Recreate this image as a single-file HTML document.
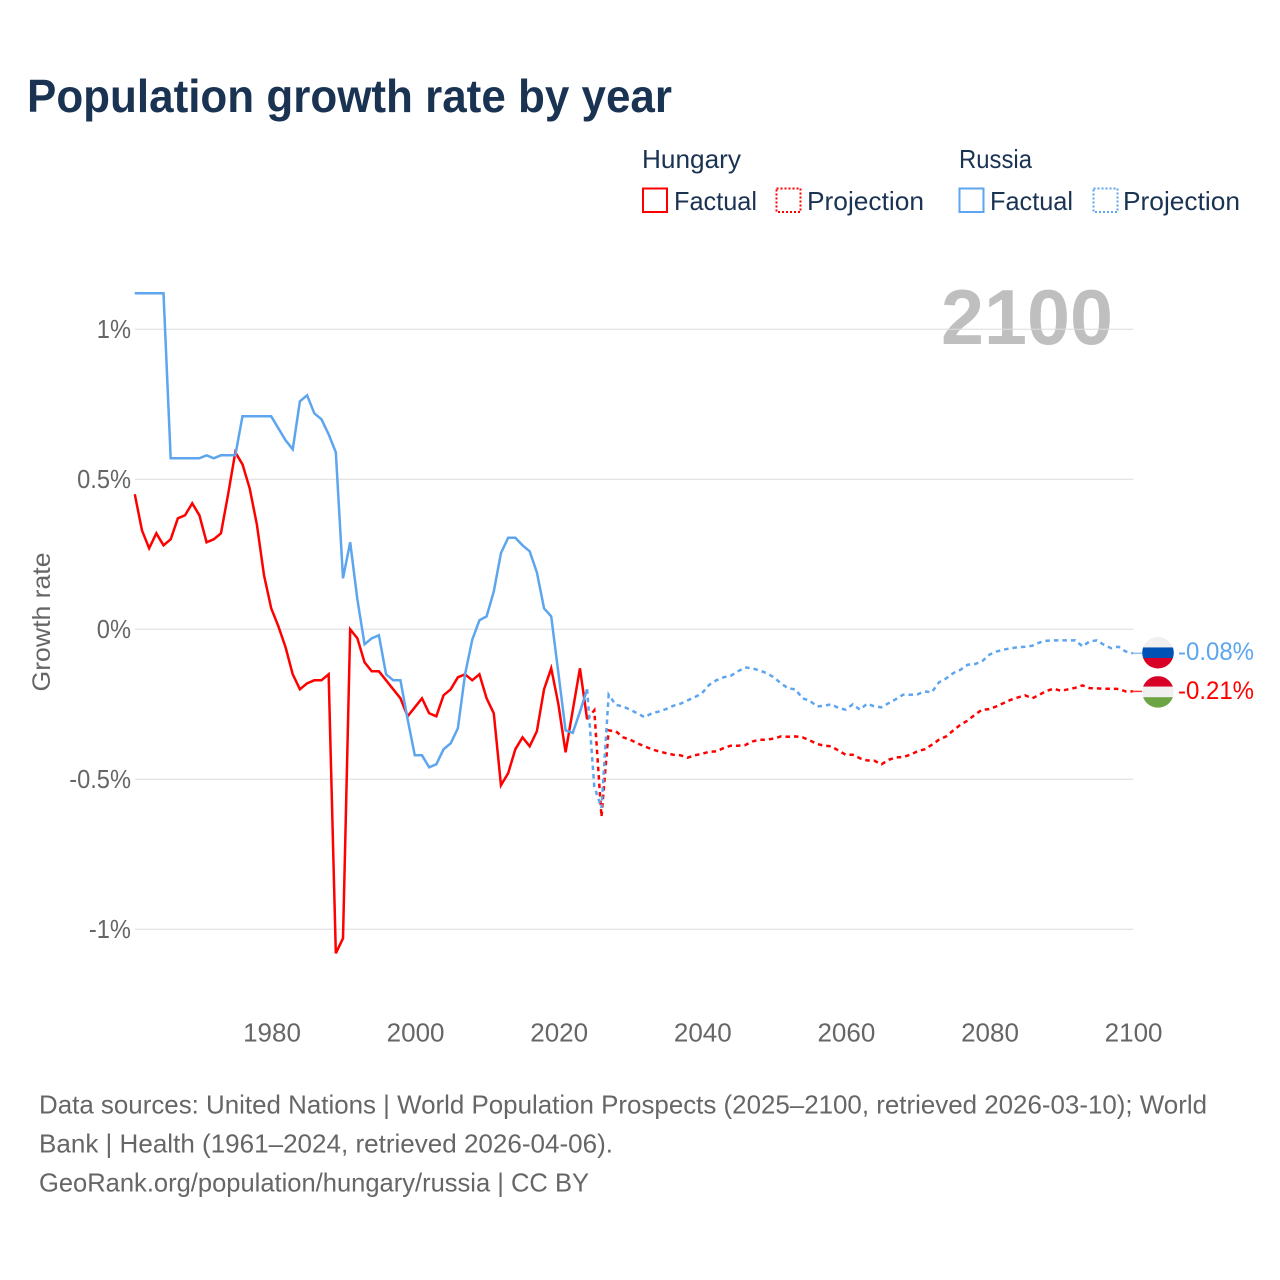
<!DOCTYPE html>
<html lang="en">
<head>
<meta charset="utf-8">
<title>Population growth rate by year</title>
<style>
  html, body { margin: 0; padding: 0; background: #fff; }
  svg { display: block; font-family: "Liberation Sans", sans-serif; }
</style>
</head>
<body>
<svg id="chart" xmlns="http://www.w3.org/2000/svg" width="1280" height="1280" viewBox="0 0 1280 1280">
  <defs>
    <clipPath id="flag-clip-russia"><circle id="flag-circle-russia" r="15.8"/></clipPath>
    <clipPath id="flag-clip-hungary"><circle id="flag-circle-hungary" r="15.8"/></clipPath>
  </defs>
  <rect width="1280" height="1280" fill="#fff"/>

  <text x="27" y="112" font-size="46" font-weight="700" fill="#1a3353" textLength="645" lengthAdjust="spacingAndGlyphs">Population growth rate by year</text>

  <g font-size="26" fill="#1a3353">
    <text x="642" y="168" textLength="99" lengthAdjust="spacingAndGlyphs">Hungary</text>
    <text x="959" y="168" textLength="73" lengthAdjust="spacingAndGlyphs">Russia</text>

    <rect x="643" y="188.5" width="24" height="23.5" fill="none" stroke="#ff0000" stroke-width="2"/>
    <text x="674" y="210" textLength="83" lengthAdjust="spacingAndGlyphs">Factual</text>
    <rect x="776.5" y="188.5" width="24" height="23.5" fill="none" stroke="#ff0000" stroke-width="2" stroke-dasharray="2 2"/>
    <text x="807" y="210" textLength="117" lengthAdjust="spacingAndGlyphs">Projection</text>

    <rect x="959.5" y="188.5" width="24" height="23.5" fill="none" stroke="#5da5ee" stroke-width="2"/>
    <text x="990" y="210" textLength="83" lengthAdjust="spacingAndGlyphs">Factual</text>
    <rect x="1093.5" y="188.5" width="24" height="23.5" fill="none" stroke="#5da5ee" stroke-width="2" stroke-dasharray="2 2"/>
    <text x="1123" y="210" textLength="117" lengthAdjust="spacingAndGlyphs">Projection</text>
  </g>

  <text x="941" y="344" font-size="78" font-weight="700" fill="#bfbfbf" textLength="172" lengthAdjust="spacingAndGlyphs">2100</text>

  <g id="grid"></g>
  <g id="y-ticks" font-size="26" fill="#666"></g>
  <g id="x-ticks" font-size="26" fill="#666"></g>

  <text transform="translate(50 622) rotate(-90)" text-anchor="middle" font-size="25" fill="#666" textLength="139" lengthAdjust="spacingAndGlyphs">Growth rate</text>

  <g id="series"></g>

  <g id="flag-russia" clip-path="url(#flag-clip-russia)"></g>
  <g id="flag-hungary" clip-path="url(#flag-clip-hungary)"></g>
  <g id="end-labels" font-size="25"></g>

  <g font-size="26" fill="#666">
    <text x="39" y="1113.5" textLength="1168" lengthAdjust="spacingAndGlyphs">Data sources: United Nations | World Population Prospects (2025–2100, retrieved 2026-03-10); World</text>
    <text x="39" y="1152.5" textLength="574" lengthAdjust="spacingAndGlyphs">Bank | Health (1961–2024, retrieved 2026-04-06).</text>
    <text x="39" y="1191.5" textLength="550" lengthAdjust="spacingAndGlyphs">GeoRank.org/population/hungary/russia | CC BY</text>
  </g>
</svg>

<script>
const factualYears = [1961,1962,1963,1964,1965,1966,1967,1968,1969,1970,1971,1972,1973,1974,1975,1976,1977,1978,1979,1980,1981,1982,1983,1984,1985,1986,1987,1988,1989,1990,1991,1992,1993,1994,1995,1996,1997,1998,1999,2000,2001,2002,2003,2004,2005,2006,2007,2008,2009,2010,2011,2012,2013,2014,2015,2016,2017,2018,2019,2020,2021,2022,2023,2024];
const projectionYears = [2024,2025,2026,2027,2028,2029,2030,2031,2032,2033,2034,2035,2036,2037,2038,2039,2040,2041,2042,2043,2044,2045,2046,2047,2048,2049,2050,2051,2052,2053,2054,2055,2056,2057,2058,2059,2060,2061,2062,2063,2064,2065,2066,2067,2068,2069,2070,2071,2072,2073,2074,2075,2076,2077,2078,2079,2080,2081,2082,2083,2084,2085,2086,2087,2088,2089,2090,2091,2092,2093,2094,2095,2096,2097,2098,2099,2100];

const hungaryFactual = [0.45,0.33,0.27,0.32,0.28,0.30,0.37,0.38,0.42,0.38,0.29,0.30,0.32,0.45,0.59,0.55,0.47,0.35,0.18,0.07,0.01,-0.06,-0.15,-0.20,-0.18,-0.17,-0.17,-0.15,-1.08,-1.03,0.00,-0.03,-0.11,-0.14,-0.14,-0.17,-0.20,-0.23,-0.29,-0.26,-0.23,-0.28,-0.29,-0.22,-0.20,-0.16,-0.15,-0.17,-0.15,-0.23,-0.28,-0.52,-0.48,-0.40,-0.36,-0.39,-0.34,-0.20,-0.13,-0.25,-0.41,-0.27,-0.13,-0.30];
const russiaFactual = [1.12,1.12,1.12,1.12,1.12,0.57,0.57,0.57,0.57,0.57,0.58,0.57,0.58,0.58,0.58,0.71,0.71,0.71,0.71,0.71,0.67,0.63,0.60,0.76,0.78,0.72,0.70,0.65,0.59,0.17,0.29,0.10,-0.05,-0.03,-0.02,-0.15,-0.17,-0.17,-0.30,-0.42,-0.42,-0.46,-0.45,-0.40,-0.38,-0.33,-0.15,-0.035,0.03,0.043,0.126,0.254,0.305,0.305,0.28,0.26,0.19,0.07,0.043,-0.146,-0.337,-0.345,-0.275,-0.20];

const hungaryProjection = [-0.30,-0.27,-0.625,-0.337,-0.34,-0.36,-0.368,-0.38,-0.39,-0.40,-0.407,-0.413,-0.418,-0.42,-0.428,-0.42,-0.415,-0.408,-0.407,-0.396,-0.388,-0.388,-0.386,-0.374,-0.368,-0.368,-0.364,-0.357,-0.358,-0.357,-0.36,-0.37,-0.382,-0.388,-0.39,-0.404,-0.418,-0.418,-0.43,-0.437,-0.438,-0.45,-0.435,-0.427,-0.426,-0.418,-0.407,-0.40,-0.385,-0.368,-0.357,-0.337,-0.318,-0.304,-0.285,-0.268,-0.266,-0.257,-0.246,-0.235,-0.227,-0.22,-0.23,-0.218,-0.205,-0.198,-0.205,-0.20,-0.195,-0.187,-0.196,-0.197,-0.198,-0.198,-0.199,-0.207,-0.207];
const russiaProjection = [-0.20,-0.525,-0.595,-0.218,-0.252,-0.257,-0.268,-0.28,-0.293,-0.28,-0.274,-0.266,-0.255,-0.248,-0.237,-0.226,-0.213,-0.185,-0.17,-0.16,-0.155,-0.14,-0.127,-0.13,-0.137,-0.146,-0.16,-0.18,-0.197,-0.20,-0.23,-0.238,-0.257,-0.255,-0.25,-0.262,-0.268,-0.25,-0.268,-0.248,-0.257,-0.26,-0.246,-0.233,-0.218,-0.218,-0.217,-0.207,-0.21,-0.177,-0.164,-0.146,-0.135,-0.118,-0.116,-0.107,-0.085,-0.074,-0.068,-0.063,-0.06,-0.058,-0.055,-0.044,-0.038,-0.037,-0.037,-0.037,-0.037,-0.057,-0.04,-0.037,-0.052,-0.063,-0.058,-0.074,-0.08];

const yTickValues = [1, 0.5, 0, -0.5, -1];
const yTickLabels = ["1%", "0.5%", "0%", "-0.5%", "-1%"];
const xTickValues = [1980, 2000, 2020, 2040, 2060, 2080, 2100];
const xTickLabels = ["1980", "2000", "2020", "2040", "2060", "2080", "2100"];
const endLabelRussia = "-0.08%";
const endLabelHungary = "-0.21%";

const SVG_NS = "http://www.w3.org/2000/svg";
const xScale = function (year) { return 271.2 + (year - 1980) * 7.18; };
const yScale = function (value) { return 629.3 - value * 300; };

function svgEl(tag, parent) {
  const el = document.createElementNS(SVG_NS, tag);
  parent.appendChild(el);
  return el;
}

function squeeze(el, ratio) {
  el.setAttribute("textLength", (el.getComputedTextLength() * ratio).toFixed(1));
  el.setAttribute("lengthAdjust", "spacingAndGlyphs");
}

const gridGroup = document.getElementById("grid");
const yTickGroup = document.getElementById("y-ticks");
yTickValues.forEach(function (v, i) {
  const line = svgEl("line", gridGroup);
  
  
  line.setAttribute("x1", 135);
  line.setAttribute("x2", 1133.5);
  line.setAttribute("y1", yScale(v));
  line.setAttribute("y2", yScale(v));
  line.setAttribute("stroke", "#dcdcdc");
  line.setAttribute("stroke-opacity", "0.75");
  line.setAttribute("stroke-width", "1.4");

  const label = svgEl("text", yTickGroup);
  
  
  label.setAttribute("x", 131);
  label.setAttribute("y", yScale(v) + 8.7);
  label.setAttribute("text-anchor", "end");
  label.textContent = yTickLabels[i];
  squeeze(label, 0.91);
});

const xTickGroup = document.getElementById("x-ticks");
xTickValues.forEach(function (v, i) {
  const label = svgEl("text", xTickGroup);
  
  
  label.setAttribute("x", xScale(v) + 0.8);
  label.setAttribute("y", 1041.5);
  label.setAttribute("text-anchor", "middle");
  label.textContent = xTickLabels[i];
});

function linePoints(years, values) {
  return years.map(function (y, i) {
    return xScale(y).toFixed(2) + "," + yScale(values[i]).toFixed(2);
  }).join(" ");
}

const seriesGroup = document.getElementById("series");

const hungaryFactualLine = svgEl("polyline", seriesGroup);


hungaryFactualLine.setAttribute("points", linePoints(factualYears, hungaryFactual));
hungaryFactualLine.setAttribute("fill", "none");
hungaryFactualLine.setAttribute("stroke", "#ff0000");
hungaryFactualLine.setAttribute("stroke-width", "2.5");

const hungaryProjectionLine = svgEl("polyline", seriesGroup);


hungaryProjectionLine.setAttribute("points", linePoints(projectionYears, hungaryProjection));
hungaryProjectionLine.setAttribute("fill", "none");
hungaryProjectionLine.setAttribute("stroke", "#ff0000");
hungaryProjectionLine.setAttribute("stroke-width", "2.5");
hungaryProjectionLine.setAttribute("stroke-dasharray", "4.5 4");

const russiaFactualLine = svgEl("polyline", seriesGroup);


russiaFactualLine.setAttribute("points", linePoints(factualYears, russiaFactual));
russiaFactualLine.setAttribute("fill", "none");
russiaFactualLine.setAttribute("stroke", "#5da5ee");
russiaFactualLine.setAttribute("stroke-width", "2.5");

const russiaProjectionLine = svgEl("polyline", seriesGroup);


russiaProjectionLine.setAttribute("points", linePoints(projectionYears, russiaProjection));
russiaProjectionLine.setAttribute("fill", "none");
russiaProjectionLine.setAttribute("stroke", "#5da5ee");
russiaProjectionLine.setAttribute("stroke-width", "2.5");
russiaProjectionLine.setAttribute("stroke-dasharray", "4.5 4");

const lastRussia = russiaProjection[russiaProjection.length - 1];
const lastHungary = hungaryProjection[hungaryProjection.length - 1];
const lastYear = projectionYears[projectionYears.length - 1];
const flagX = 1158;

const connectorRussia = svgEl("line", seriesGroup);


connectorRussia.setAttribute("x1", xScale(lastYear));
connectorRussia.setAttribute("x2", flagX - 16);
connectorRussia.setAttribute("y1", yScale(lastRussia));
connectorRussia.setAttribute("y2", yScale(lastRussia));
connectorRussia.setAttribute("stroke", "#5da5ee");
connectorRussia.setAttribute("stroke-opacity", "0.7");
connectorRussia.setAttribute("stroke-width", "1.5");

const connectorHungary = svgEl("line", seriesGroup);


connectorHungary.setAttribute("x1", xScale(lastYear));
connectorHungary.setAttribute("x2", flagX - 16);
connectorHungary.setAttribute("y1", yScale(lastHungary));
connectorHungary.setAttribute("y2", yScale(lastHungary));
connectorHungary.setAttribute("stroke", "#ff0000");
connectorHungary.setAttribute("stroke-opacity", "0.8");
connectorHungary.setAttribute("stroke-width", "1.5");

function drawFlag(groupId, circleId, cy, colors) {
  const circle = document.getElementById(circleId);
  circle.setAttribute("cx", flagX);
  circle.setAttribute("cy", cy);
  const group = document.getElementById(groupId);
  colors.forEach(function (c, i) {
    const stripe = svgEl("rect", group);
    
    
    stripe.setAttribute("x", flagX - 17);
    stripe.setAttribute("y", cy - 15.8 + i * 10.54);
    stripe.setAttribute("width", 34);
    stripe.setAttribute("height", 10.6);
    stripe.setAttribute("fill", c);
  });
}
drawFlag("flag-russia", "flag-circle-russia", yScale(lastRussia) - 0.6, ["#f0f0f0", "#0052b4", "#d80027"]);
drawFlag("flag-hungary", "flag-circle-hungary", yScale(lastHungary) + 0.5, ["#d80027", "#f0f0f0", "#6da544"]);

const endGroup = document.getElementById("end-labels");

const russiaEnd = svgEl("text", endGroup);


russiaEnd.setAttribute("x", 1178);
russiaEnd.setAttribute("y", yScale(lastRussia) + 6.5);
russiaEnd.setAttribute("fill", "#5da5ee");
russiaEnd.textContent = endLabelRussia;
russiaEnd.setAttribute("textLength", "76");
russiaEnd.setAttribute("lengthAdjust", "spacingAndGlyphs");

const hungaryEnd = svgEl("text", endGroup);


hungaryEnd.setAttribute("x", 1178);
hungaryEnd.setAttribute("y", yScale(lastHungary) + 7.5);
hungaryEnd.setAttribute("fill", "#ff0000");
hungaryEnd.textContent = endLabelHungary;
hungaryEnd.setAttribute("textLength", "76");
hungaryEnd.setAttribute("lengthAdjust", "spacingAndGlyphs");
</script>
</body>
</html>
